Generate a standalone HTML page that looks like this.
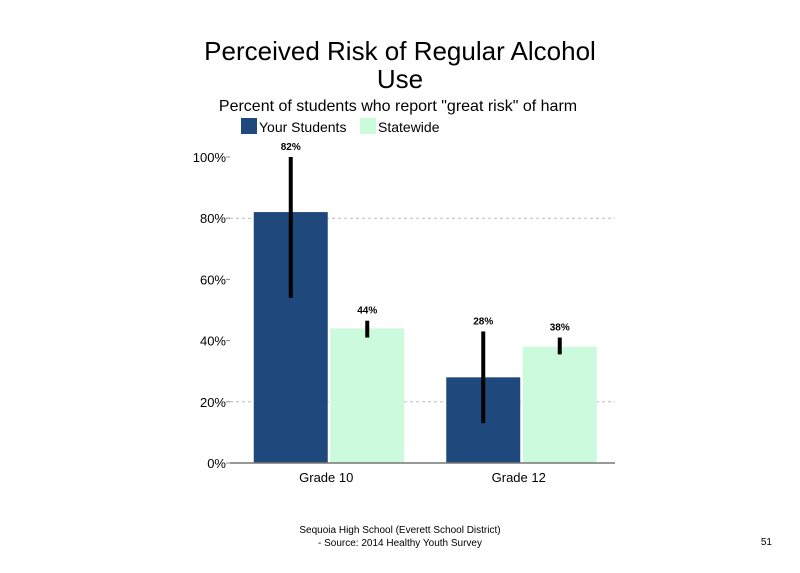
<!DOCTYPE html>
<html><head><meta charset="utf-8"><style>
body{margin:0;background:#fff;width:800px;height:568px;overflow:hidden;font-family:"Liberation Sans",sans-serif}
</style></head><body>
<svg width="800" height="568" xmlns="http://www.w3.org/2000/svg">
<text x="400" y="60" text-anchor="middle" font-size="26" fill="#000">Perceived Risk of Regular Alcohol</text>
<text x="400" y="88" text-anchor="middle" font-size="26" fill="#000">Use</text>
<text x="398" y="111" text-anchor="middle" font-size="16" fill="#000">Percent of students who report "great risk" of harm</text>
<g>
<rect x="241" y="118" width="16" height="16" fill="#1f497d"/>
<text x="259" y="132" font-size="14">Your Students</text>
<rect x="360" y="118" width="16" height="16" fill="#ccfadc"/>
<text x="378" y="132" font-size="14">Statewide</text>
</g>
<g id="plot"></g>
<text x="400" y="533" text-anchor="middle" font-size="10">Sequoia High School (Everett School District)</text>
<text x="400" y="546" text-anchor="middle" font-size="10">- Source: 2014 Healthy  Youth Survey</text>
<text x="772" y="545" text-anchor="end" font-size="10">51</text>
</svg>
<script>
const categories=["Grade 10","Grade 12"];
const yourStudents=[82,28];
const statewide=[44,38];
const yourLow=[54,13];
const yourHigh=[100,43];
const stateLow=[41,35.5];
const stateHigh=[46.5,41];
const yTicks=[0,20,40,60,80,100];
const gridTicks=[20,80];
const NS="http://www.w3.org/2000/svg";
const g=document.getElementById('plot');
const x0=230,x1=615,y0=463,yTop=157;
function y(v){return y0-(v/100)*(y0-yTop);}
const groupW=(x1-x0)/categories.length;
function mk(tag,attrs){const e=document.createElementNS(NS,tag);for(const k in attrs)e.setAttribute(k,attrs[k]);g.appendChild(e);return e;}
gridTicks.forEach(t=>{
  const l=mk('line',{x1:x0,x2:x1,y1:y(t),y2:y(t),stroke:'#bbb','stroke-dasharray':'3,3'});
  
  
});
yTicks.forEach(t=>{
  const tx=mk('text',{x:226,y:y(t)+5,'text-anchor':'end','font-size':13});
  tx.textContent=t+'%';
  
  
  const tk=mk('line',{x1:226,x2:230,y1:y(t),y2:y(t),stroke:'#888'});
  
  
});
function bar(cx,v,lo,hi,col,name){
  const r=mk('rect',{x:cx-37,y:y(v),width:74,height:y0-y(v),fill:col});
  
  
  const e=mk('rect',{x:cx-2,y:y(hi),width:4,height:y(lo)-y(hi),fill:'#000'});
  
  
  const t=mk('text',{x:cx,y:y(hi)-7,'text-anchor':'middle','font-size':10,'font-weight':'bold'});
  t.textContent=v+'%';
  
  
}
categories.forEach((c,i)=>{
  const gc=x0+groupW*(i+0.5);
  const slug=c.toLowerCase().replace(' ','-');
  bar(gc-35.5,yourStudents[i],yourLow[i],yourHigh[i],'#1f497d','your-students-'+slug);
  bar(gc+41,statewide[i],stateLow[i],stateHigh[i],'#ccfadc','statewide-'+slug);
  const t=mk('text',{x:gc,y:482,'text-anchor':'middle','font-size':13});
  t.textContent=c;
  
  
});
const ax=mk('line',{x1:x0,x2:x1,y1:y0,y2:y0,stroke:'#777','stroke-width':1.5});


</script>
</body></html>
